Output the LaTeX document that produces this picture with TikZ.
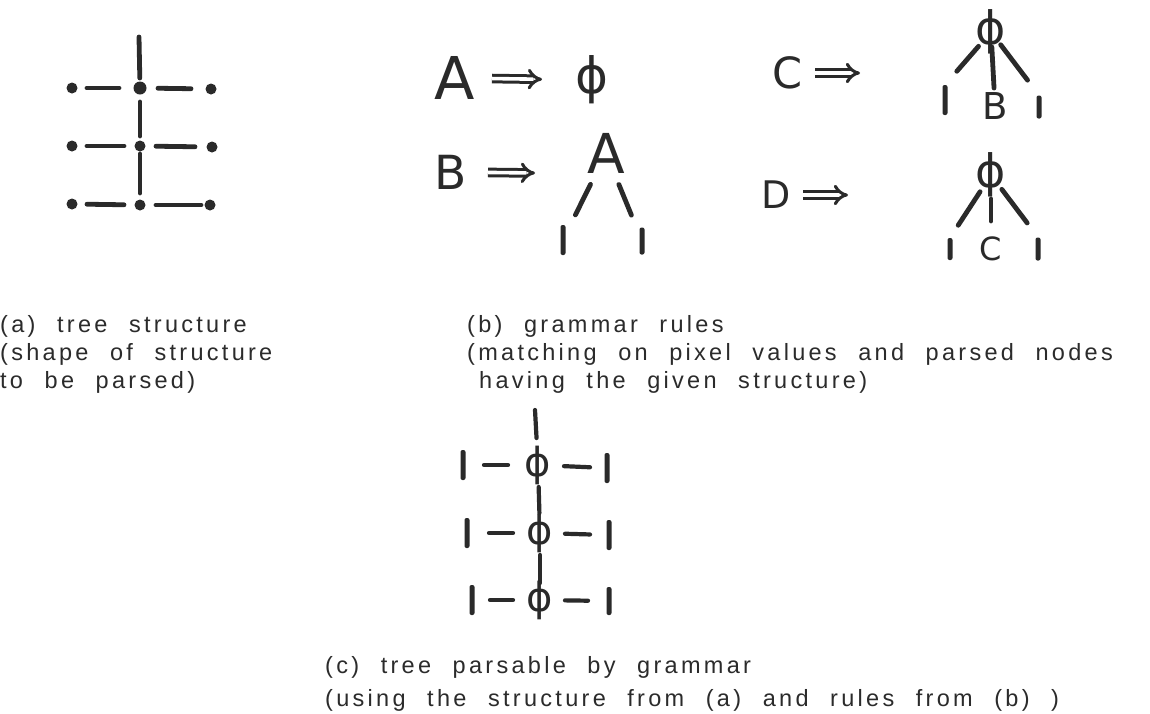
\documentclass[tikz,border=0pt]{standalone}
\usepackage{fontspec}
\setmainfont{Liberation Sans}
\newfontfamily\capfont[LetterSpace=14,WordSpace=2.2]{Liberation Sans}
\newfontfamily\handfont{DejaVu Sans}
\usetikzlibrary{arrows.meta}
\definecolor{ink}{HTML}{2A2A2A}
\definecolor{captxt}{HTML}{2B2B2B}
\begin{document}
\begin{tikzpicture}[x=1pt,y=-1pt,
  stroke/.style={draw=ink, line width=4.8pt, line cap=round},
  cstroke/.style={draw=ink, line width=4.2pt, line cap=round},
  dotn/.style={circle, fill=ink, inner sep=0pt, minimum size=11pt},
  bar/.style={rectangle, fill=ink, rounded corners=2pt, inner sep=0pt, minimum width=5pt, minimum height=#1},
  bar/.default=30pt,
  glyph/.style={text=ink, inner sep=0pt, font=\handfont\fontsize{#1}{#1}\selectfont},
  arr/.style={draw=ink, line width=3pt, double=white, double distance=3.6pt, -{Implies[length=9pt,width=24pt]}},
  captext/.style={anchor=base west, inner sep=0pt, text=captxt, font=\capfont\fontsize{23.5}{23.5}\selectfont},
]
\fill[white] (0,0) rectangle (1150,713);
\useasboundingbox (0,0) rectangle (1150,713);

% ---------- (a) tree structure ----------
\coordinate (atop) at (139,37);
\node[dotn] (a11) at (72,88) {};
\node[dotn, minimum size=13pt] (a12) at (140,88) {};
\node[dotn] (a13) at (211,89) {};
\node[dotn] (a21) at (72,146) {};
\node[dotn] (a22) at (140,146) {};
\node[dotn] (a23) at (212,147) {};
\node[dotn] (a31) at (72,204) {};
\node[dotn] (a32) at (140,205) {};
\node[dotn] (a33) at (210,205) {};
\draw[stroke, shorten >=10pt] (atop) -- (a12.center);
\draw[stroke, shorten <=15pt, shorten >=21pt] (a11.center) -- (a12.center);
\draw[stroke, shorten <=18pt, shorten >=20pt] (a12.center) -- (a13.center);
\draw[stroke, shorten <=15pt, shorten >=16pt] (a21.center) -- (a22.center);
\draw[stroke, shorten <=16pt, shorten >=17pt] (a22.center) -- (a23.center);
\draw[stroke, shorten <=15pt, shorten >=16pt] (a31.center) -- (a32.center);
\draw[stroke, shorten <=16pt, shorten >=9pt] (a32.center) -- (a33.center);
\draw[stroke, shorten <=14pt, shorten >=10pt] (a12.center) -- (a22.center);
\draw[stroke, shorten <=8pt, shorten >=12pt] (a22.center) -- (a32.center);

\node[captext] (capa1) at (0,332) {(a) tree structure};
\node[captext] (capa2) at (0,360) {(shape of structure};
\node[captext] (capa3) at (0,388) {to be parsed)};

% ---------- (b) grammar rules ----------
% A => phi
\node[glyph=59] (A1) at (455,78) {A};
\node[glyph=50] (P1) at (592,80) {ϕ};
\draw[arr, shorten <=37pt, shorten >=50pt] (A1.center) -- (P1.center);

% B => tree
\node[glyph=47] (B1) at (451,172) {B};
\coordinate (Bend) at (535,173);
\draw[arr, shorten <=37pt] (B1.center) -- (Bend);
\node[glyph=55] (A2) at (606,153) {A};
\node[bar=30pt] (Bl) at (563,240) {};
\node[bar=27pt] (Br) at (642,241) {};
\draw[stroke, shorten <=35pt, shorten >=28pt] (A2.center) -- (Bl.center);
\draw[stroke, shorten <=34pt, shorten >=28pt] (A2.center) -- (Br.center);

% C => tree
\node[glyph=43] (C1) at (787,73) {C};
\coordinate (Cend) at (860,73);
\draw[arr, shorten <=28pt] (C1.center) -- (Cend);
\node[glyph=46] (PC) at (991,32) {ϕ};
\node[bar=30pt] (CLl) at (945,100) {};
\node[glyph=37] (CB) at (995,106) {B};
\node[bar=23pt] (CLr) at (1039,107) {};
\draw[stroke, shorten <=19pt, shorten >=18pt] (PC.center) -- (CLl.north);
\draw[stroke, shorten <=15pt, shorten >=18pt] (PC.center) -- (CB.center);
\draw[stroke, shorten <=16pt, shorten >=19pt] (PC.center) -- (CLr.north);

% D => tree
\node[glyph=38] (D1) at (776,195) {D};
\coordinate (Dend) at (848,195);
\draw[arr, shorten <=27pt] (D1.center) -- (Dend);
\node[glyph=46] (PD) at (991,175) {ϕ};
\node[bar=22pt] (DLl) at (950,249) {};
\node[glyph=32] (DC) at (991,249) {C};
\node[bar=23pt] (DLr) at (1038,249) {};
\draw[stroke, shorten <=20pt, shorten >=15pt] (PD.center) -- (DLl.north);
\draw[stroke, shorten <=24pt, shorten >=28pt] (PD.center) -- (DC.center);
\draw[stroke, shorten <=18pt, shorten >=18pt] (PD.center) -- (DLr.north);

\node[captext] (capb1) at (467,332) {(b) grammar rules};
\node[captext] (capb2) at (467,360) {(matching on pixel values and parsed nodes};
\node[captext] (capb3) at (479,388) {having the given structure)};

% ---------- (c) parsed tree ----------
\coordinate (ctop) at (535,410);
\node[glyph=40] (c1) at (538,465) {ϕ};
\node[glyph=40] (c2) at (540,533) {ϕ};
\node[glyph=40] (c3) at (540,600) {ϕ};
\node[bar=30pt] (cl1) at (463,465) {};
\node[bar=30pt] (cr1) at (607,468) {};
\node[bar=30pt] (cl2) at (467,533) {};
\node[bar=30pt] (cr2) at (609,535) {};
\node[bar=30pt] (cl3) at (472,600) {};
\node[bar=28pt] (cr3) at (609,601) {};
\draw[cstroke, shorten >=27pt] (ctop) -- (c1.center);
\draw[cstroke, shorten <=21pt, shorten >=30pt] (cl1.center) -- (c1.center);
\draw[cstroke, shorten <=26pt, shorten >=17pt] (c1.center) -- (cr1.center);
\draw[cstroke, shorten <=22pt, shorten >=20pt] (c1.center) -- (c2.center);
\draw[cstroke, shorten <=22pt, shorten >=27pt] (cl2.center) -- (c2.center);
\draw[cstroke, shorten <=25pt, shorten >=19pt] (c2.center) -- (cr2.center);
\draw[cstroke, shorten <=22pt, shorten >=17pt] (c2.center) -- (c3.center);
\draw[cstroke, shorten <=18pt, shorten >=27pt] (cl3.center) -- (c3.center);
\draw[cstroke, shorten <=25pt, shorten >=21pt] (c3.center) -- (cr3.center);

\node[captext] (capc1) at (325,673) {(c) tree parsable by grammar};
\node[captext] (capc2) at (325,706) {(using the structure from (a) and rules from (b) )};
\end{tikzpicture}
\end{document}
